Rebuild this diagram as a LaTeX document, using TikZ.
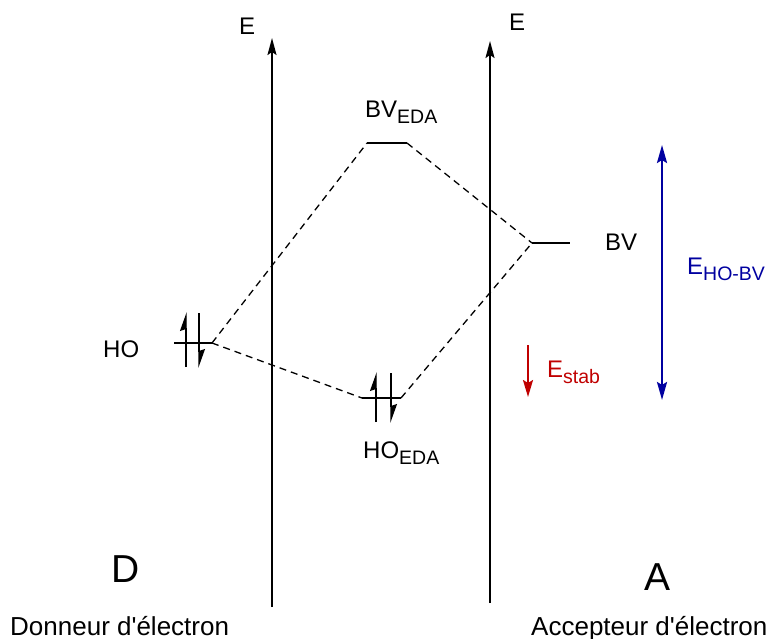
\documentclass[tikz,border=0pt]{standalone}
\usepackage{fontspec}
\setmainfont{Liberation Sans}
\usetikzlibrary{arrows.meta}
\definecolor{stabred}{RGB}{192,0,0}
\definecolor{gapblue}{RGB}{0,0,160}
\newcommand{\mysub}[1]{\raisebox{-6pt}{\fontsize{19.5}{20}\selectfont #1}}
\begin{document}
\begin{tikzpicture}[x=1pt,y=-1pt,
  lbl/.style={inner sep=0pt, anchor=base west, font=\fontsize{24}{28}\selectfont},
  biglbl/.style={inner sep=0pt, anchor=base west, font=\fontsize{39}{44}\selectfont},
  foot/.style={inner sep=0pt, anchor=base west, font=\fontsize{26}{30}\selectfont},
  axis/.style={line width=1.8pt, -{Stealth[length=17pt,width=9pt,inset=3pt]}},
  level/.style={line width=1.5pt},
  link/.style={line width=1.3pt, dash pattern=on 7pt off 5pt},
  elec/.style={line width=1.4pt, -{Stealth[harpoon,length=17pt,width=12pt,inset=2pt]}},
  stab/.style={stabred, line width=2pt, -{Stealth[length=17pt,width=10pt,inset=3pt]}},
  gap/.style={gapblue, line width=2.5pt, {Stealth[length=18pt,width=10pt,inset=3pt]}-{Stealth[length=18pt,width=10pt,inset=3pt]}}
]
\useasboundingbox (0,0) rectangle (773,639);
% axes
\coordinate (ax1b) at (272,607); \coordinate (ax1t) at (272,38);
\coordinate (ax2b) at (490,603); \coordinate (ax2t) at (490,41);
\draw[axis] (ax1b) -- (ax1t);
\draw[axis] (ax2b) -- (ax2t);
\node[lbl] (E1) at (239,35) {E};
\node[lbl] (E2) at (509,31) {E};
% levels
\coordinate (HOl) at (174,343); \coordinate (HOr) at (212,343);
\coordinate (HOEl) at (362,398); \coordinate (HOEr) at (401,398);
\coordinate (BVEl) at (367,143); \coordinate (BVEr) at (407,143);
\coordinate (BVl) at (532,243); \coordinate (BVr) at (570,243);
\draw[level] (HOl) -- (HOr);
\draw[level] (HOEl) -- (HOEr);
\draw[level] (BVEl) -- (BVEr);
\draw[level] (BVl) -- (BVr);
% dashed correlations
\draw[link] (HOr) -- (BVEl);
\draw[link] (HOr) -- (HOEl);
\draw[link] (BVEr) -- (BVl);
\draw[link] (HOEr) -- (BVl);
% electrons
\coordinate (e1a) at (186,367); \coordinate (e1b) at (186,312);
\coordinate (e2a) at (199,313); \coordinate (e2b) at (199,368);
\coordinate (e3a) at (376,422); \coordinate (e3b) at (376,372);
\coordinate (e4a) at (391,373); \coordinate (e4b) at (391,423);
\draw[elec] (e1a) -- (e1b);
\draw[elec] (e2a) -- (e2b);
\draw[elec] (e3a) -- (e3b);
\draw[elec] (e4a) -- (e4b);
% labels
\node[lbl] (bveda) at (365,118) {BV\mysub{EDA}};
\node[lbl] (hoeda) at (363,458) {HO\mysub{EDA}};
\node[lbl] (ho) at (103,357) {HO};
\node[lbl] (bv) at (605,250) {BV};
% energies
\coordinate (st1) at (528,345); \coordinate (st2) at (528,397);
\draw[stab] (st1) -- (st2);
\node[lbl, text=stabred] (estab) at (547,377) {E\mysub{stab}};
\coordinate (g1) at (662,145); \coordinate (g2) at (662,400);
\draw[gap] (g1) -- (g2);
\node[lbl, text=gapblue] (ehobv) at (687,274) {E\mysub{HO-BV}};
% D and A
\node[biglbl] (D) at (111,582) {D};
\node[biglbl] (A) at (644,590) {A};
\node[foot] (don) at (10,635) {Donneur d\textquotesingle électron};
\node[foot] (acc) at (531,635) {Accepteur d\textquotesingle électron};
\end{tikzpicture}
\end{document}
